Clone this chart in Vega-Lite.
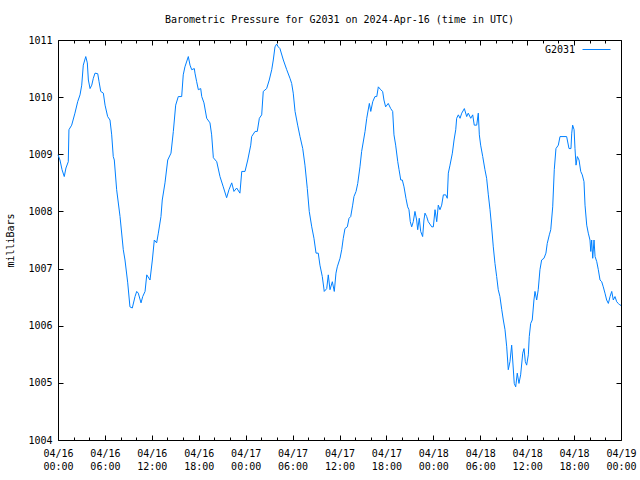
{
"$schema": "https://vega.github.io/schema/vega-lite/v6.json",
"width": 563, "height": 400,
"autosize": "none",
"padding": {"left": 58, "top": 40, "right": 19, "bottom": 40},
"background": "white",
"title": {"text": "Barometric Pressure for G2031 on 2024-Apr-16 (time in UTC)", "font": "DejaVu Sans Mono", "fontSize": 10, "fontWeight": "normal", "color": "black", "offset": 10, "anchor": "middle"},
"config": {"view": {"stroke": null}, "axis": {"labelFont": "DejaVu Sans Mono", "labelFontSize": 10, "labelColor": "black", "tickColor": "black", "tickWidth": 1, "domainColor": "black", "domainWidth": 1, "grid": false, "titleFont": "DejaVu Sans Mono", "titleFontSize": 10, "titleFontWeight": "normal", "titleColor": "black"}},
"data": {"values": [
{"t":"2024-04-16T00:00Z","p":1008.99},{"t":"2024-04-16T00:15Z","p":1008.90},{"t":"2024-04-16T00:31Z","p":1008.73},{"t":"2024-04-16T00:48Z","p":1008.61},{"t":"2024-04-16T01:01Z","p":1008.76},{"t":"2024-04-16T01:19Z","p":1008.87},{"t":"2024-04-16T01:24Z","p":1009.43},{"t":"2024-04-16T01:45Z","p":1009.51},{"t":"2024-04-16T02:10Z","p":1009.72},{"t":"2024-04-16T02:31Z","p":1009.92},{"t":"2024-04-16T02:49Z","p":1010.04},{"t":"2024-04-16T03:02Z","p":1010.21},{"t":"2024-04-16T03:14Z","p":1010.56},{"t":"2024-04-16T03:33Z","p":1010.71},{"t":"2024-04-16T03:45Z","p":1010.60},{"t":"2024-04-16T03:53Z","p":1010.30},{"t":"2024-04-16T04:06Z","p":1010.15},{"t":"2024-04-16T04:19Z","p":1010.21},{"t":"2024-04-16T04:31Z","p":1010.33},{"t":"2024-04-16T04:44Z","p":1010.42},{"t":"2024-04-16T05:05Z","p":1010.41},{"t":"2024-04-16T05:15Z","p":1010.27},{"t":"2024-04-16T05:28Z","p":1010.10},{"t":"2024-04-16T05:48Z","p":1010.07},{"t":"2024-04-16T06:01Z","p":1009.86},{"t":"2024-04-16T06:21Z","p":1009.66},{"t":"2024-04-16T06:39Z","p":1009.60},{"t":"2024-04-16T06:52Z","p":1009.34},{"t":"2024-04-16T07:04Z","p":1008.96},{"t":"2024-04-16T07:12Z","p":1008.90},{"t":"2024-04-16T07:30Z","p":1008.38},{"t":"2024-04-16T07:56Z","p":1007.91},{"t":"2024-04-16T08:21Z","p":1007.33},{"t":"2024-04-16T08:34Z","p":1007.15},{"t":"2024-04-16T08:55Z","p":1006.75},{"t":"2024-04-16T09:12Z","p":1006.33},{"t":"2024-04-16T09:30Z","p":1006.31},{"t":"2024-04-16T09:51Z","p":1006.51},{"t":"2024-04-16T10:04Z","p":1006.60},{"t":"2024-04-16T10:16Z","p":1006.57},{"t":"2024-04-16T10:37Z","p":1006.40},{"t":"2024-04-16T10:50Z","p":1006.51},{"t":"2024-04-16T11:08Z","p":1006.60},{"t":"2024-04-16T11:21Z","p":1006.89},{"t":"2024-04-16T11:46Z","p":1006.80},{"t":"2024-04-16T12:04Z","p":1007.15},{"t":"2024-04-16T12:19Z","p":1007.50},{"t":"2024-04-16T12:37Z","p":1007.45},{"t":"2024-04-16T12:50Z","p":1007.62},{"t":"2024-04-16T13:10Z","p":1007.91},{"t":"2024-04-16T13:20Z","p":1008.20},{"t":"2024-04-16T13:41Z","p":1008.50},{"t":"2024-04-16T14:02Z","p":1008.90},{"t":"2024-04-16T14:27Z","p":1009.02},{"t":"2024-04-16T14:45Z","p":1009.40},{"t":"2024-04-16T15:03Z","p":1009.86},{"t":"2024-04-16T15:23Z","p":1010.01},{"t":"2024-04-16T15:49Z","p":1010.01},{"t":"2024-04-16T16:01Z","p":1010.39},{"t":"2024-04-16T16:14Z","p":1010.53},{"t":"2024-04-16T16:40Z","p":1010.71},{"t":"2024-04-16T16:53Z","p":1010.56},{"t":"2024-04-16T17:06Z","p":1010.48},{"t":"2024-04-16T17:26Z","p":1010.50},{"t":"2024-04-16T17:31Z","p":1010.42},{"t":"2024-04-16T17:44Z","p":1010.27},{"t":"2024-04-16T17:57Z","p":1010.13},{"t":"2024-04-16T18:15Z","p":1010.15},{"t":"2024-04-16T18:23Z","p":1010.01},{"t":"2024-04-16T18:40Z","p":1009.90},{"t":"2024-04-16T19:01Z","p":1009.63},{"t":"2024-04-16T19:26Z","p":1009.55},{"t":"2024-04-16T19:39Z","p":1009.34},{"t":"2024-04-16T19:52Z","p":1008.94},{"t":"2024-04-16T20:18Z","p":1008.87},{"t":"2024-04-16T20:43Z","p":1008.61},{"t":"2024-04-16T21:08Z","p":1008.43},{"t":"2024-04-16T21:34Z","p":1008.24},{"t":"2024-04-16T21:52Z","p":1008.38},{"t":"2024-04-16T22:13Z","p":1008.50},{"t":"2024-04-16T22:30Z","p":1008.35},{"t":"2024-04-16T22:51Z","p":1008.41},{"t":"2024-04-16T23:16Z","p":1008.32},{"t":"2024-04-16T23:30Z","p":1008.70},{"t":"2024-04-16T23:55Z","p":1008.70},
{"t":"2024-04-17T00:16Z","p":1008.90},{"t":"2024-04-17T00:39Z","p":1009.16},{"t":"2024-04-17T00:46Z","p":1009.31},{"t":"2024-04-17T01:12Z","p":1009.40},{"t":"2024-04-17T01:29Z","p":1009.40},{"t":"2024-04-17T01:45Z","p":1009.63},{"t":"2024-04-17T02:03Z","p":1009.69},{"t":"2024-04-17T02:15Z","p":1010.10},{"t":"2024-04-17T02:41Z","p":1010.15},{"t":"2024-04-17T03:01Z","p":1010.30},{"t":"2024-04-17T03:20Z","p":1010.48},{"t":"2024-04-17T03:32Z","p":1010.65},{"t":"2024-04-17T03:45Z","p":1010.88},{"t":"2024-04-17T03:58Z","p":1010.93},{"t":"2024-04-17T04:10Z","p":1010.88},{"t":"2024-04-17T04:23Z","p":1010.85},{"t":"2024-04-17T04:49Z","p":1010.65},{"t":"2024-04-17T05:15Z","p":1010.48},{"t":"2024-04-17T05:40Z","p":1010.33},{"t":"2024-04-17T05:53Z","p":1010.24},{"t":"2024-04-17T06:05Z","p":1010.07},{"t":"2024-04-17T06:19Z","p":1009.75},{"t":"2024-04-17T06:39Z","p":1009.51},{"t":"2024-04-17T06:57Z","p":1009.31},{"t":"2024-04-17T07:18Z","p":1009.10},{"t":"2024-04-17T07:35Z","p":1008.81},{"t":"2024-04-17T07:53Z","p":1008.40},{"t":"2024-04-17T08:08Z","p":1008.00},{"t":"2024-04-17T08:27Z","p":1007.73},{"t":"2024-04-17T08:44Z","p":1007.53},{"t":"2024-04-17T09:00Z","p":1007.27},{"t":"2024-04-17T09:17Z","p":1007.27},{"t":"2024-04-17T09:30Z","p":1007.06},{"t":"2024-04-17T09:48Z","p":1006.86},{"t":"2024-04-17T10:03Z","p":1006.60},{"t":"2024-04-17T10:22Z","p":1006.65},{"t":"2024-04-17T10:34Z","p":1006.89},{"t":"2024-04-17T10:47Z","p":1006.63},{"t":"2024-04-17T11:05Z","p":1006.77},{"t":"2024-04-17T11:20Z","p":1006.60},{"t":"2024-04-17T11:33Z","p":1006.92},{"t":"2024-04-17T11:43Z","p":1007.03},{"t":"2024-04-17T12:04Z","p":1007.18},{"t":"2024-04-17T12:17Z","p":1007.33},{"t":"2024-04-17T12:29Z","p":1007.53},{"t":"2024-04-17T12:42Z","p":1007.70},{"t":"2024-04-17T13:00Z","p":1007.73},{"t":"2024-04-17T13:13Z","p":1007.88},{"t":"2024-04-17T13:26Z","p":1007.91},{"t":"2024-04-17T13:41Z","p":1008.11},{"t":"2024-04-17T13:51Z","p":1008.26},{"t":"2024-04-17T14:07Z","p":1008.35},{"t":"2024-04-17T14:20Z","p":1008.49},{"t":"2024-04-17T14:37Z","p":1008.78},{"t":"2024-04-17T14:50Z","p":1009.05},{"t":"2024-04-17T15:16Z","p":1009.40},{"t":"2024-04-17T15:29Z","p":1009.63},{"t":"2024-04-17T15:49Z","p":1009.89},{"t":"2024-04-17T16:00Z","p":1009.75},{"t":"2024-04-17T16:15Z","p":1009.92},{"t":"2024-04-17T16:32Z","p":1010.01},{"t":"2024-04-17T16:46Z","p":1010.01},{"t":"2024-04-17T16:58Z","p":1010.18},{"t":"2024-04-17T17:16Z","p":1010.13},{"t":"2024-04-17T17:31Z","p":1010.10},{"t":"2024-04-17T17:41Z","p":1009.95},{"t":"2024-04-17T17:54Z","p":1009.83},{"t":"2024-04-17T18:14Z","p":1009.89},{"t":"2024-04-17T18:33Z","p":1009.80},{"t":"2024-04-17T18:48Z","p":1009.75},{"t":"2024-04-17T18:58Z","p":1009.34},{"t":"2024-04-17T19:11Z","p":1009.16},{"t":"2024-04-17T19:27Z","p":1008.87},{"t":"2024-04-17T19:37Z","p":1008.73},{"t":"2024-04-17T19:50Z","p":1008.55},{"t":"2024-04-17T20:02Z","p":1008.55},{"t":"2024-04-17T20:15Z","p":1008.43},{"t":"2024-04-17T20:30Z","p":1008.23},{"t":"2024-04-17T20:43Z","p":1008.08},{"t":"2024-04-17T20:53Z","p":1008.03},{"t":"2024-04-17T21:03Z","p":1007.82},{"t":"2024-04-17T21:14Z","p":1007.73},{"t":"2024-04-17T21:26Z","p":1007.82},{"t":"2024-04-17T21:39Z","p":1008.00},{"t":"2024-04-17T21:52Z","p":1007.85},{"t":"2024-04-17T22:00Z","p":1007.68},{"t":"2024-04-17T22:12Z","p":1007.88},{"t":"2024-04-17T22:23Z","p":1007.65},{"t":"2024-04-17T22:38Z","p":1007.56},{"t":"2024-04-17T22:48Z","p":1007.85},{"t":"2024-04-17T22:56Z","p":1007.97},{"t":"2024-04-17T23:09Z","p":1007.91},{"t":"2024-04-17T23:21Z","p":1007.82},{"t":"2024-04-17T23:48Z","p":1007.73},
{"t":"2024-04-18T00:00Z","p":1007.73},{"t":"2024-04-18T00:13Z","p":1008.03},{"t":"2024-04-18T00:26Z","p":1007.82},{"t":"2024-04-18T00:38Z","p":1008.11},{"t":"2024-04-18T00:51Z","p":1008.03},{"t":"2024-04-18T01:04Z","p":1008.11},{"t":"2024-04-18T01:17Z","p":1008.29},{"t":"2024-04-18T01:35Z","p":1008.29},{"t":"2024-04-18T01:47Z","p":1008.23},{"t":"2024-04-18T01:55Z","p":1008.67},{"t":"2024-04-18T02:08Z","p":1008.81},{"t":"2024-04-18T02:26Z","p":1009.02},{"t":"2024-04-18T02:39Z","p":1009.25},{"t":"2024-04-18T02:52Z","p":1009.43},{"t":"2024-04-18T02:59Z","p":1009.63},{"t":"2024-04-18T03:12Z","p":1009.69},{"t":"2024-04-18T03:25Z","p":1009.63},{"t":"2024-04-18T03:38Z","p":1009.72},{"t":"2024-04-18T03:58Z","p":1009.80},{"t":"2024-04-18T04:16Z","p":1009.66},{"t":"2024-04-18T04:28Z","p":1009.72},{"t":"2024-04-18T04:47Z","p":1009.63},{"t":"2024-04-18T05:02Z","p":1009.69},{"t":"2024-04-18T05:14Z","p":1009.51},{"t":"2024-04-18T05:33Z","p":1009.51},{"t":"2024-04-18T05:45Z","p":1009.72},{"t":"2024-04-18T05:53Z","p":1009.34},{"t":"2024-04-18T06:03Z","p":1009.16},{"t":"2024-04-18T06:19Z","p":1008.96},{"t":"2024-04-18T06:36Z","p":1008.73},{"t":"2024-04-18T06:49Z","p":1008.58},{"t":"2024-04-18T07:02Z","p":1008.29},{"t":"2024-04-18T07:15Z","p":1008.03},{"t":"2024-04-18T07:28Z","p":1007.71},{"t":"2024-04-18T07:40Z","p":1007.38},{"t":"2024-04-18T07:53Z","p":1007.09},{"t":"2024-04-18T08:06Z","p":1006.86},{"t":"2024-04-18T08:18Z","p":1006.63},{"t":"2024-04-18T08:31Z","p":1006.51},{"t":"2024-04-18T08:45Z","p":1006.28},{"t":"2024-04-18T08:57Z","p":1006.10},{"t":"2024-04-18T09:10Z","p":1005.93},{"t":"2024-04-18T09:23Z","p":1005.63},{"t":"2024-04-18T09:35Z","p":1005.23},{"t":"2024-04-18T09:48Z","p":1005.37},{"t":"2024-04-18T10:01Z","p":1005.66},{"t":"2024-04-18T10:09Z","p":1005.40},{"t":"2024-04-18T10:21Z","p":1004.99},{"t":"2024-04-18T10:32Z","p":1004.93},{"t":"2024-04-18T10:44Z","p":1005.17},{"t":"2024-04-18T10:57Z","p":1004.99},{"t":"2024-04-18T11:10Z","p":1005.14},{"t":"2024-04-18T11:26Z","p":1005.52},{"t":"2024-04-18T11:36Z","p":1005.60},{"t":"2024-04-18T11:46Z","p":1005.37},{"t":"2024-04-18T11:56Z","p":1005.31},{"t":"2024-04-18T12:09Z","p":1005.49},{"t":"2024-04-18T12:16Z","p":1005.81},{"t":"2024-04-18T12:27Z","p":1006.04},{"t":"2024-04-18T12:39Z","p":1006.10},{"t":"2024-04-18T12:52Z","p":1006.45},{"t":"2024-04-18T13:00Z","p":1006.60},{"t":"2024-04-18T13:13Z","p":1006.45},{"t":"2024-04-18T13:25Z","p":1006.63},{"t":"2024-04-18T13:38Z","p":1006.98},{"t":"2024-04-18T13:51Z","p":1007.15},{"t":"2024-04-18T14:09Z","p":1007.18},{"t":"2024-04-18T14:24Z","p":1007.27},{"t":"2024-04-18T14:34Z","p":1007.44},{"t":"2024-04-18T14:50Z","p":1007.59},{"t":"2024-04-18T15:01Z","p":1007.68},{"t":"2024-04-18T15:16Z","p":1008.08},{"t":"2024-04-18T15:28Z","p":1008.73},{"t":"2024-04-18T15:41Z","p":1009.10},{"t":"2024-04-18T15:59Z","p":1009.16},{"t":"2024-04-18T16:12Z","p":1009.31},{"t":"2024-04-18T17:03Z","p":1009.31},{"t":"2024-04-18T17:21Z","p":1009.10},{"t":"2024-04-18T17:36Z","p":1009.10},{"t":"2024-04-18T17:42Z","p":1009.37},{"t":"2024-04-18T17:49Z","p":1009.51},{"t":"2024-04-18T18:00Z","p":1009.43},{"t":"2024-04-18T18:07Z","p":1009.10},{"t":"2024-04-18T18:15Z","p":1008.81},{"t":"2024-04-18T18:25Z","p":1008.96},{"t":"2024-04-18T18:38Z","p":1008.90},{"t":"2024-04-18T18:51Z","p":1008.70},{"t":"2024-04-18T19:03Z","p":1008.64},{"t":"2024-04-18T19:16Z","p":1008.52},{"t":"2024-04-18T19:24Z","p":1008.11},{"t":"2024-04-18T19:37Z","p":1007.76},{"t":"2024-04-18T19:49Z","p":1007.62},{"t":"2024-04-18T20:02Z","p":1007.50},{"t":"2024-04-18T20:08Z","p":1007.30},{"t":"2024-04-18T20:15Z","p":1007.50},{"t":"2024-04-18T20:23Z","p":1007.18},{"t":"2024-04-18T20:33Z","p":1007.50},{"t":"2024-04-18T20:41Z","p":1007.21},{"t":"2024-04-18T20:54Z","p":1007.12},{"t":"2024-04-18T21:06Z","p":1006.98},{"t":"2024-04-18T21:19Z","p":1006.80},{"t":"2024-04-18T21:32Z","p":1006.77},{"t":"2024-04-18T21:44Z","p":1006.68},{"t":"2024-04-18T21:57Z","p":1006.57},{"t":"2024-04-18T22:10Z","p":1006.45},{"t":"2024-04-18T22:23Z","p":1006.39},{"t":"2024-04-18T22:36Z","p":1006.51},{"t":"2024-04-18T22:49Z","p":1006.60},{"t":"2024-04-18T23:01Z","p":1006.45},{"t":"2024-04-18T23:14Z","p":1006.51},{"t":"2024-04-18T23:27Z","p":1006.42},{"t":"2024-04-18T23:39Z","p":1006.39},{"t":"2024-04-18T23:52Z","p":1006.36},{"t":"2024-04-19T00:00Z","p":1006.36}
]},
"layer": [
{"mark": {"type": "line", "strokeWidth": 1, "interpolate": "linear"},
 "encoding": {
  "x": {"field": "t", "type": "temporal", "scale": {"type": "utc", "domain": [1713225600000, 1713484800000]},
        "axis": {"orient": "bottom", "title": null, "values": [1713225600000, 1713247200000, 1713268800000, 1713290400000, 1713312000000, 1713333600000, 1713355200000, 1713376800000, 1713398400000, 1713420000000, 1713441600000, 1713463200000, 1713484800000], "tickSize": -5, "labelPadding": 13, "labelExpr": "[utcFormat(datum.value, '%m/%d'), utcFormat(datum.value, '%H:%M')]", "labelLineHeight": 13, "labelBaseline": "top", "labelAlign": "center", "labelFlush": false, "labelOverlap": false, "labelBound": false, "domain": true}},
  "y": {"field": "p", "type": "quantitative", "scale": {"domain": [1004, 1011], "zero": false, "nice": false},
        "axis": {"orient": "left", "title": "milliBars", "format": "d", "values": [1004, 1005, 1006, 1007, 1008, 1009, 1010, 1011], "tickSize": -5, "labelPadding": 11, "titlePadding": 12, "labelFlush": false, "labelOverlap": false, "domain": true}},
  "color": {"datum": "G2031", "type": "nominal", "scale": {"range": ["#0080ff"]},
            "legend": {"orient": "none", "legendX": 524, "legendY": -5, "title": null, "symbolType": "stroke", "symbolSize": 784, "symbolStrokeWidth": 1, "labelFont": "DejaVu Sans Mono", "labelFontSize": 10, "labelColor": "black", "labelAlign": "right", "labelOffset": -36, "padding": 0}}
 }},
{"mark": {"type": "line", "opacity": 0},
 "encoding": {
  "x": {"field": "t", "type": "temporal", "axis": {"orient": "top", "title": null, "labels": false, "values": [1713225600000, 1713247200000, 1713268800000, 1713290400000, 1713312000000, 1713333600000, 1713355200000, 1713376800000, 1713398400000, 1713420000000, 1713441600000, 1713463200000, 1713484800000], "tickSize": -5, "domain": true}},
  "y": {"field": "p", "type": "quantitative", "axis": {"orient": "right", "title": null, "labels": false, "values": [1004, 1005, 1006, 1007, 1008, 1009, 1010, 1011], "tickSize": -5, "domain": true}}
 }},
{"mark": {"type": "line", "opacity": 0},
 "encoding": {
  "x": {"field": "t", "type": "temporal", "axis": {"orient": "bottom", "title": null, "labels": false, "values": [1713232800000, 1713240000000, 1713254400000, 1713261600000, 1713276000000, 1713283200000, 1713297600000, 1713304800000, 1713319200000, 1713326400000, 1713340800000, 1713348000000, 1713362400000, 1713369600000, 1713384000000, 1713391200000, 1713405600000, 1713412800000, 1713427200000, 1713434400000, 1713448800000, 1713456000000, 1713470400000, 1713477600000], "tickSize": -3, "domain": false}},
  "y": {"field": "p", "type": "quantitative", "axis": null}
 }},
{"mark": {"type": "line", "opacity": 0},
 "encoding": {
  "x": {"field": "t", "type": "temporal", "axis": {"orient": "top", "title": null, "labels": false, "values": [1713232800000, 1713240000000, 1713254400000, 1713261600000, 1713276000000, 1713283200000, 1713297600000, 1713304800000, 1713319200000, 1713326400000, 1713340800000, 1713348000000, 1713362400000, 1713369600000, 1713384000000, 1713391200000, 1713405600000, 1713412800000, 1713427200000, 1713434400000, 1713448800000, 1713456000000, 1713470400000, 1713477600000], "tickSize": -3, "domain": false}},
  "y": {"field": "p", "type": "quantitative", "axis": null}
 }}
],
"resolve": {"axis": {"x": "independent", "y": "independent"}}
}
